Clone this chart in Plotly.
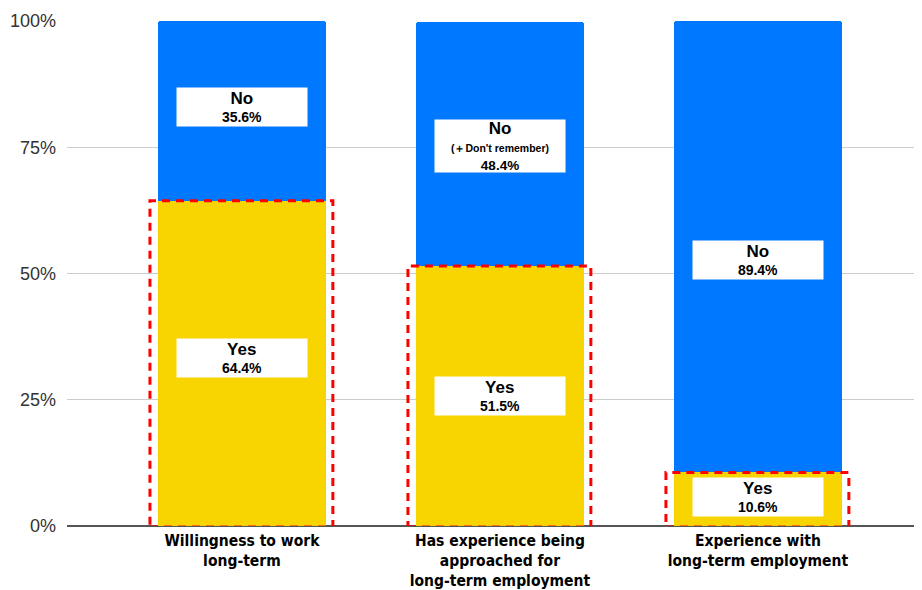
import plotly.graph_objects as go

# data
categories = ["Willingness to work<br>long-term",
              "Has experience being<br>approached for<br>long-term employment",
              "Experience with<br>long-term employment"]
yes_vals = [64.4, 51.5, 10.6]
no_vals = [35.6, 48.4, 89.4]
no_labels = ["No", "No<br><span style='font-size:10.5px'>(＋Don't remember)</span>", "No"]
yes_labels = ["Yes", "Yes", "Yes"]
y_ticks = [0, 25, 50, 75, 100]
y_ticktext = ["0%", "25%", "50%", "75%", "100%"]

BLUE = "#0078FF"
YELLOW = "#F8D500"
BAR_W = 0.651
FONT = "Liberation Sans"

xs = list(range(len(categories)))

fig = go.Figure()
fig.add_trace(go.Bar(x=xs, y=yes_vals, width=BAR_W, marker=dict(color=YELLOW, line_width=0),
                     name="Yes", hoverinfo="skip"))
fig.add_trace(go.Bar(x=xs, y=no_vals, width=BAR_W, marker=dict(color=BLUE, line_width=0),
                     name="No", hoverinfo="skip"))


def box_text(head, val):
    return f"<b><span style='font-size:17px'>{head}</span><br>{val:.1f}%</b>"


# white label boxes, nudged a little where the original sits off-centre
no_shift = [4, -2, -13]
yes_shift = [5, 0, 2]
no_h = [34, 48, 34]
for i in xs:
    fig.add_annotation(x=i, y=yes_vals[i] + no_vals[i] / 2, yshift=no_shift[i],
                       text=box_text(no_labels[i], no_vals[i]),
                       showarrow=False, bgcolor="white", width=126, height=no_h[i], borderpad=2,
                       font=dict(family=FONT, size=13.5 if i == 1 else 14, color="black"))
    fig.add_annotation(x=i, y=yes_vals[i] / 2, yshift=yes_shift[i],
                       text=box_text(yes_labels[i], yes_vals[i]),
                       showarrow=False, bgcolor="white", width=126, height=34, borderpad=2,
                       font=dict(family=FONT, size=14, color="black"))
    # red dashed highlight round the "Yes" part
    fig.add_shape(type="rect", xref="x", yref="y",
                  x0=i - BAR_W / 2 - 0.031, x1=i + BAR_W / 2 + 0.027,
                  y0=-0.2, y1=yes_vals[i],
                  line=dict(color="#FF0000", width=3, dash="8px,6px"))

fig.update_xaxes(range=[-0.678, 2.636], tickvals=xs, ticktext=[f"<b>{c}</b>" for c in categories],
                 tickfont=dict(family="DejaVu Sans Condensed, Liberation Sans", size=15.5, color="black"),
                 showgrid=False, zeroline=False, showline=False, ticks="",
                 automargin=False, ticklabelstandoff=3)
fig.update_yaxes(range=[0, 100], tickvals=y_ticks, ticktext=y_ticktext,
                 tickfont=dict(family="Liberation Sans", size=18, color="#333333"),
                 showgrid=True, gridcolor="#CCCCCC", gridwidth=1,
                 zeroline=True, zerolinecolor="#555555", zerolinewidth=2,
                 automargin=False, ticklabelstandoff=10)
# the page body adds 8px on the top and left, so the figure is 8px smaller
fig.update_layout(
    barmode="stack",
    barcornerradius=3,
    width=914, height=582,
    margin=dict(l=59, r=0, t=13, b=64),
    plot_bgcolor="white", paper_bgcolor="white",
    showlegend=False,
)

fig.write_html("out.html")
